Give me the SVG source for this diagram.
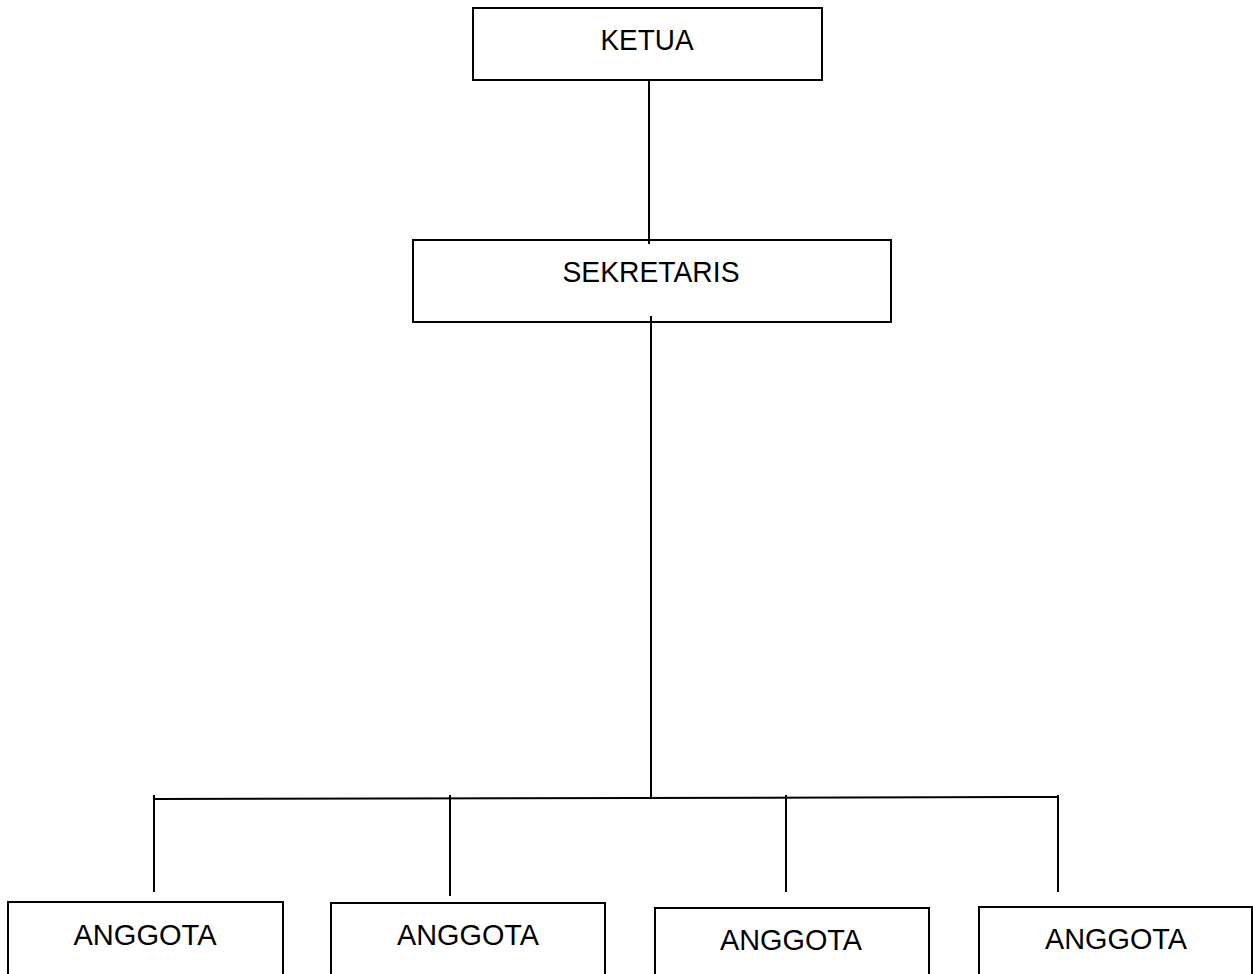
<svg xmlns="http://www.w3.org/2000/svg" width="1253" height="974" viewBox="0 0 1253 974">
<style>
.box{fill:#fff;stroke:#000;stroke-width:2}
.lbl{font-family:"Liberation Sans",Arial,sans-serif;font-size:30px;fill:#000;text-anchor:middle}
.ln{stroke:#000;stroke-width:2;fill:none}
</style>
<rect width="1253" height="974" fill="#fff"/>
<g id="ketua">
<rect class="box" x="473" y="8" width="349" height="72"/>
<text class="lbl" x="647" y="50" textLength="93" lengthAdjust="spacingAndGlyphs">KETUA</text>
</g>
<g id="sekretaris">
<rect class="box" x="413" y="240" width="478" height="82"/>
<text class="lbl" x="651" y="282" textLength="177" lengthAdjust="spacingAndGlyphs">SEKRETARIS</text>
</g>
<g id="anggota1">
<rect class="box" x="8" y="902" width="275" height="90"/>
<text class="lbl" x="145" y="945" textLength="143" lengthAdjust="spacingAndGlyphs">ANGGOTA</text>
</g>
<g id="anggota2">
<rect class="box" x="331" y="903" width="274" height="90"/>
<text class="lbl" x="468" y="945" textLength="142" lengthAdjust="spacingAndGlyphs">ANGGOTA</text>
</g>
<g id="anggota3">
<rect class="box" x="655" y="908" width="274" height="90"/>
<text class="lbl" x="791" y="950" textLength="142" lengthAdjust="spacingAndGlyphs">ANGGOTA</text>
</g>
<g id="anggota4">
<rect class="box" x="979" y="907" width="273" height="90"/>
<text class="lbl" x="1116" y="949" textLength="142" lengthAdjust="spacingAndGlyphs">ANGGOTA</text>
</g>
<g id="connectors">
<line class="ln" x1="649" y1="80" x2="649" y2="244"/>
<line class="ln" x1="651" y1="316" x2="651" y2="797"/>
<line class="ln" x1="154" y1="799" x2="1058" y2="797"/>
<line class="ln" x1="154" y1="795" x2="154" y2="892"/>
<line class="ln" x1="450" y1="795" x2="450" y2="896"/>
<line class="ln" x1="786" y1="795" x2="786" y2="892"/>
<line class="ln" x1="1058" y1="795" x2="1058" y2="892"/>
</g>
</svg>
